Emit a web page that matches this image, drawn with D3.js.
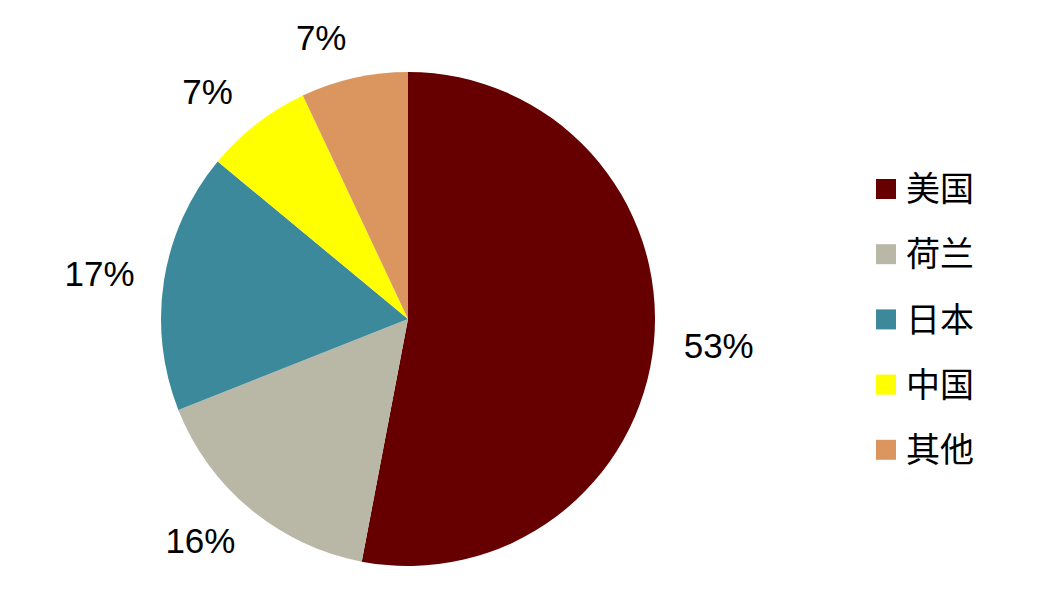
<!DOCTYPE html>
<html>
<head>
<meta charset="utf-8">
<script src="https://cdn.jsdelivr.net/npm/d3@7"></script>
<style>
  body { margin: 0; background: #fff; }
  svg { display: block; }
</style>
</head>
<body>
<div id="chart"></div>
<script>
    // Data
    const countries = ["美国", "荷兰", "日本", "中国", "其他"];
    const shares = [53, 16, 17, 7, 7];
    const colors = ["#660000", "#B9B8A7", "#3D899C", "#FFFF00", "#DB9660"];

    const width = 1040;
    const height = 599;
    const radius = 247;
    const cx = 408, cy = 319;

    const svg = d3.select("#chart")
        .append("svg")
        .attr("width", width)
        .attr("height", height);

    const g = svg.append("g")
        .attr("transform", `translate(${cx},${cy})`);

    const color = d3.scaleOrdinal().domain(countries).range(colors);

    const pie = d3.pie()
        .sort(null)
        .value(d => d.value);

    const data = countries.map((c, i) => ({ name: c, value: shares[i] }));
    const arcs = pie(data);

    const arc = d3.arc().innerRadius(0).outerRadius(radius);

    // Slices
    g.selectAll("path")
        .data(arcs)
        .enter()
        .append("path")
        .attr("d", arc)
        .style("fill", d => color(d.data.name));

    // Percentage labels outside the pie (pushed sideways by about half a label width)
    const labelR = 288;
    function labelPos(d) {
        const a = (d.startAngle + d.endAngle) / 2;
        const s = Math.sin(a);
        const x = labelR * s + 24 * Math.sign(s);
        const y = -labelR * Math.cos(a);
        return [x, y];
    }

    g.selectAll("text.pct")
        .data(arcs)
        .enter()
        .append("text")
        .attr("class", "pct")
        .attr("transform", d => `translate(${labelPos(d)})`)
        .attr("dy", "0.35em")
        .style("text-anchor", "middle")
        .style("font-family", "'Liberation Sans', Arial, sans-serif")
        .style("font-size", "35px")
        .style("fill", "#000")
        .text(d => d.data.value + "%");

    // Legend
    const legend = svg.append("g")
        .attr("transform", "translate(876,189)");

    const row = legend.selectAll("g")
        .data(countries)
        .enter()
        .append("g")
        .attr("transform", (d, i) => `translate(0,${i * 65.2})`);

    row.append("rect")
        .attr("x", 0)
        .attr("y", -10)
        .attr("width", 20)
        .attr("height", 20)
        .style("fill", d => color(d));

    row.append("text")
        .attr("x", 30)
        .attr("dy", "0.36em")
        .style("font-family", "'Noto Sans CJK SC', sans-serif")
        .style("font-size", "34px")
        .style("fill", "#000")
        .text(d => d);
</script>
</body>
</html>
